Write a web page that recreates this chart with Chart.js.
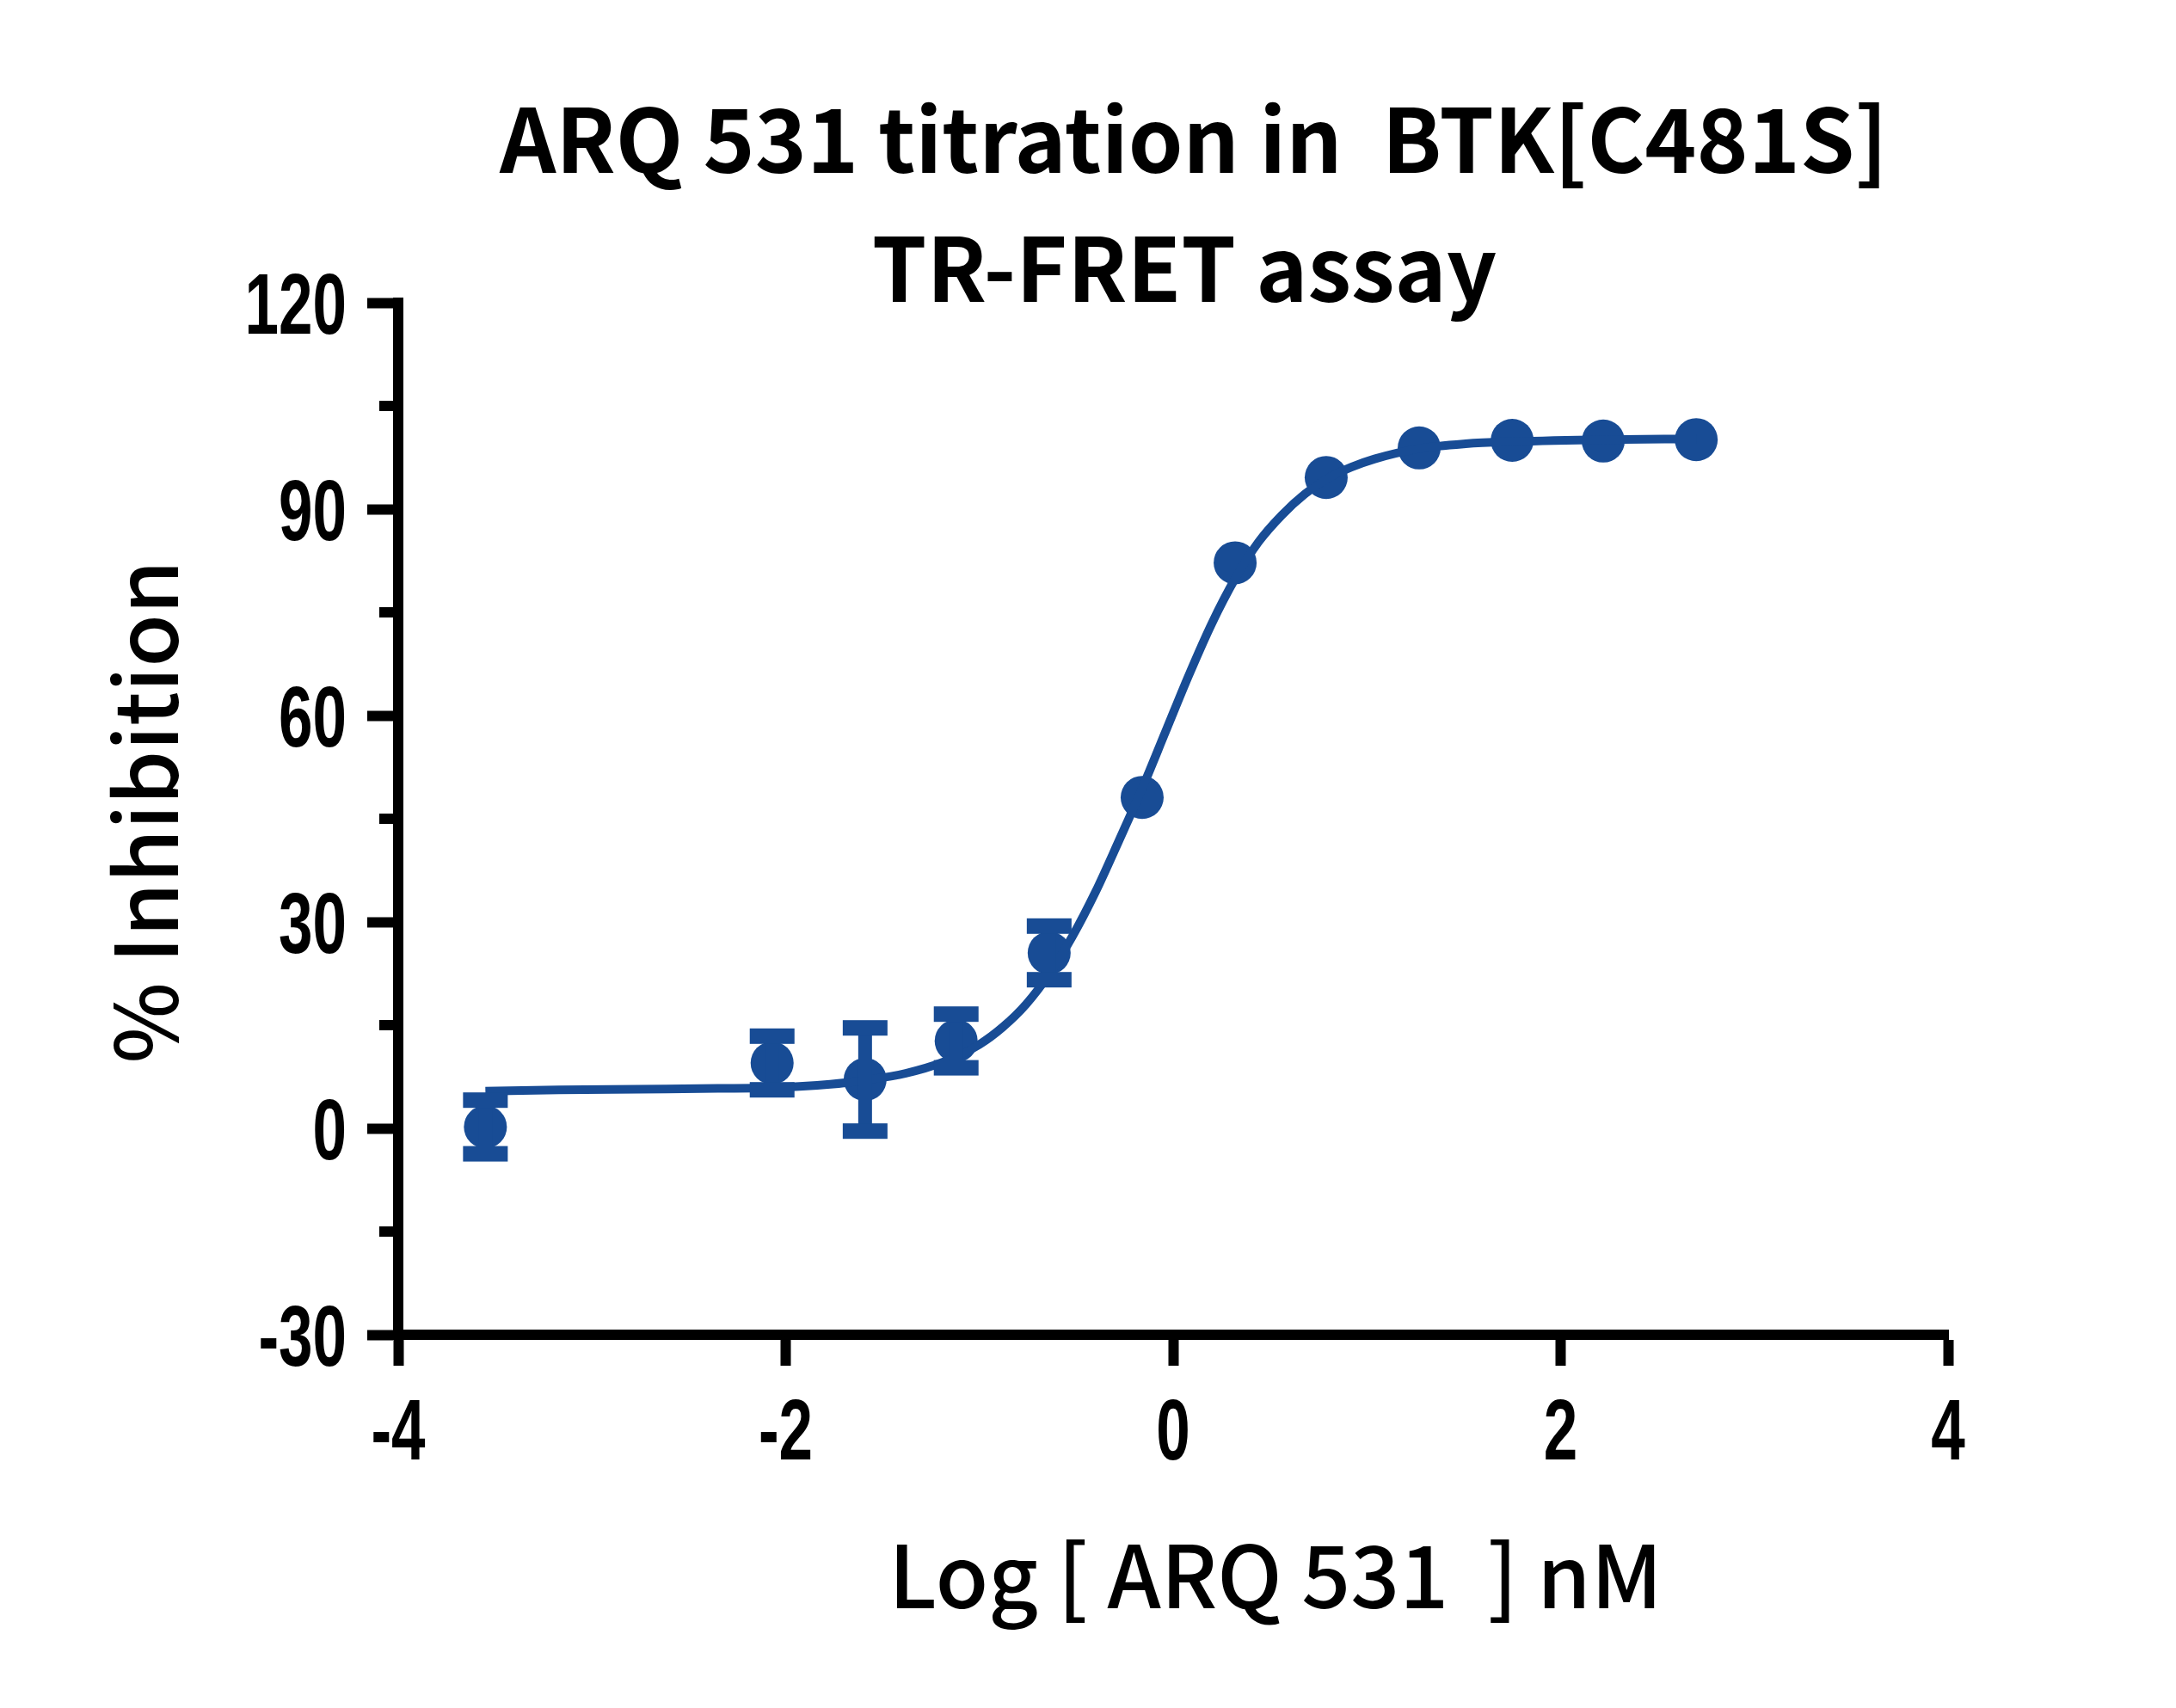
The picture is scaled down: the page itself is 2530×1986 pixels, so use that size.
<!DOCTYPE html>
<html>
<head>
<meta charset="utf-8">
<title>ARQ 531 titration</title>
<script src="https://cdn.jsdelivr.net/npm/chart.js"></script>
<style>
  html, body { margin: 0; padding: 0; background: #fff; }
  canvas { display: block; }
</style>
</head>
<body>
<canvas id="doseChart" width="2530" height="1986"></canvas>
<script>
// measured points: log concentration (nM), mean % inhibition, error (+/-)
const logConc = [-3.55, -2.07, -1.59, -1.12, -0.64, -0.16, 0.32, 0.79, 1.27, 1.75, 2.22, 2.70];
const inhibition = [0.2, 9.5, 7.1, 12.7, 25.5, 48.1, 82.2, 94.6, 98.9, 100.0, 99.9, 100.1];
const errBar = [3.9, 3.9, 7.5, 3.9, 3.9, 0, 0, 0, 0, 0, 0, 0];

// fitted curve
const fitX = [-3.55, -3.17, -2.76, -2.35, -2.07, -1.77, -1.59, -1.38, -1.19,
              -1.00, -0.88, -0.76, -0.64, -0.52, -0.40, -0.28, -0.16, -0.04,
              0.08, 0.20, 0.32, 0.44, 0.56, 0.68, 0.80, 0.92, 1.04,
              1.27, 1.51, 1.75, 2.22, 2.70];
const fitY = [5.4, 5.6, 5.7, 5.8, 5.9, 6.4, 7.0, 8.0, 9.6,
              12.2, 14.7, 18.0, 22.4, 27.9, 34.4, 41.8, 49.4, 57.6,
              65.8, 73.4, 79.9, 85.2, 89.1, 92.2, 94.5, 96.1, 97.3,
              98.8, 99.5, 99.8, 100.1, 100.2];

const xTicks = [-4, -2, 0, 2, 4];
const yTicks = [-30, 0, 30, 60, 90, 120];
const yMinorTicks = [-15, 15, 45, 75, 105];

const titleLines = ['ARQ 531 titration in  BTK[C481S]', 'TR-FRET assay'];
const xTitle = 'Log [ ARQ 531  ] nM';
const yTitle = '% Inhibition';

const BLUE = '#184c95';
const AXIS_W = 12;
const tickFont = "bold 100px 'Liberation Sans', Arial, sans-serif";
const textFont = "'Noto Sans CJK SC', 'Source Sans Pro', 'Noto Sans', sans-serif";
const SQUEEZE = 0.71; // tick labels are a narrow face

const errorBars = {
    id: 'errorBars',
    afterDatasetsDraw(chart) {
        const { ctx, scales: { x, y } } = chart;
        ctx.save();
        ctx.fillStyle = BLUE;
        logConc.forEach((lx, i) => {
            const e = errBar[i];
            if (!e) return;
            const px = x.getPixelForValue(lx);
            const top = y.getPixelForValue(inhibition[i] + e);
            const bot = y.getPixelForValue(inhibition[i] - e);
            ctx.fillRect(px - 8, top, 16, bot - top);
            ctx.fillRect(px - 26, top - 9, 52, 18);
            ctx.fillRect(px - 26, bot - 9, 52, 18);
        });
        ctx.restore();
    }
};

function squeezedText(ctx, text, x, y, align) {
    ctx.save();
    ctx.translate(x, y);
    ctx.scale(SQUEEZE, 1);
    ctx.textAlign = align;
    ctx.fillText(text, 0, 0);
    ctx.restore();
}

const extras = {
    id: 'extras',
    afterDraw(chart) {
        const { ctx, chartArea, scales: { x, y } } = chart;
        ctx.save();
        ctx.fillStyle = '#000';

        // minor ticks on y
        yMinorTicks.forEach(v => {
            const py = y.getPixelForValue(v);
            ctx.fillRect(chartArea.left - 22, py - AXIS_W / 2, 22, AXIS_W);
        });

        // tick labels
        ctx.font = tickFont;
        ctx.textBaseline = 'alphabetic';
        y.ticks.forEach(t => {
            squeezedText(ctx, String(t.value), chartArea.left - 60, y.getPixelForValue(t.value) + 36, 'right');
        });
        x.ticks.forEach(t => {
            squeezedText(ctx, String(t.value), x.getPixelForValue(t.value), chartArea.bottom + 145, 'center');
        });

        // titles
        ctx.textAlign = 'center';
        ctx.font = 'bold 102px ' + textFont;
        ctx.fillText(titleLines[0], 1388, 201);
        ctx.fillText(titleLines[1], 1377, 351);

        ctx.font = '500 100px ' + textFont;
        ctx.fillText(xTitle, 1483, 1870);

        ctx.translate(207, 944);
        ctx.rotate(-Math.PI / 2);
        ctx.font = '500 100px ' + textFont;
        ctx.fillText(yTitle, 0, 0);
        ctx.restore();
    }
};

function buildChart() {
    new Chart(document.getElementById('doseChart'), {
        type: 'scatter',
        data: {
            datasets: [{
                label: 'fit',
                data: fitX.map((v, i) => ({ x: v, y: fitY[i] })),
                showLine: true,
                borderColor: BLUE,
                borderWidth: 10,
                pointRadius: 0,
                cubicInterpolationMode: 'monotone',
                clip: false
            }, {
                label: 'ARQ 531',
                data: logConc.map((v, i) => ({ x: v, y: inhibition[i] })),
                showLine: false,
                pointRadius: 25,
                pointBackgroundColor: BLUE,
                pointBorderWidth: 0,
                clip: false
            }]
        },
        options: {
            responsive: false,
            animation: false,
            devicePixelRatio: 1,
            layout: { padding: { left: 0, top: 352, right: 265, bottom: 234 } },
            plugins: { legend: { display: false }, tooltip: { enabled: false }, title: { display: false } },
            scales: {
                x: {
                    type: 'linear',
                    min: -4, max: 4,
                    afterFit: s => { s.height = 200; },
                    afterBuildTicks: s => { s.ticks = xTicks.map(v => ({ value: v })); },
                    border: { display: true, color: '#000', width: AXIS_W },
                    grid: { drawOnChartArea: false, drawTicks: true, tickLength: 36, tickWidth: AXIS_W, tickColor: '#000' },
                    ticks: { display: false }
                },
                y: {
                    type: 'linear',
                    min: -30, max: 120,
                    afterFit: s => { s.width = 463; },
                    afterBuildTicks: s => { s.ticks = yTicks.map(v => ({ value: v })); },
                    border: { display: true, color: '#000', width: AXIS_W },
                    grid: { drawOnChartArea: false, drawTicks: true, tickLength: 36, tickWidth: AXIS_W, tickColor: '#000' },
                    ticks: { display: false }
                }
            }
        },
        plugins: [errorBars, extras]
    });
}

const fontLoads = [
    document.fonts.load("bold 100px 'Liberation Sans'"),
    document.fonts.load("bold 102px 'Noto Sans CJK SC'"),
    document.fonts.load("500 100px 'Noto Sans CJK SC'")
];
Promise.all(fontLoads).catch(() => {}).finally(buildChart);
</script>
</body>
</html>
